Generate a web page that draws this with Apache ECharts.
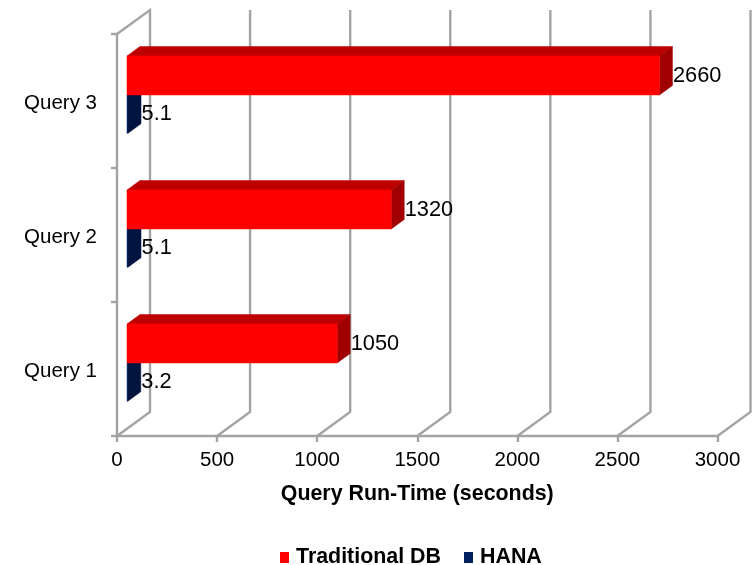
<!DOCTYPE html>
<html><head><meta charset="utf-8">
<style>html,body{margin:0;padding:0;background:#fff}#c{width:754px;height:565px}</style>
<script src="https://cdn.jsdelivr.net/npm/echarts@6/dist/echarts.min.js"></script>
</head><body><div id="c"></div>
<script>
const categories = ['Query 1', 'Query 2', 'Query 3'];
const traditionalDB = [1050, 1320, 2660];
const hana = [3.2, 5.1, 5.1];
const xTicks = [0, 500, 1000, 1500, 2000, 2500, 3000];
const seriesNames = ['Traditional DB', 'HANA'];

const FONT = '"Liberation Sans", Arial, sans-serif';
const GRID = '#A3A3A3';
const WALL = {dx: 33, dy: -24};
const FRONT = {dx: 10, dy: -7};
const DEPTH = {dx: 13, dy: -9.5};

function poly(points, fill) {
  return {type: 'polygon', shape: {points}, style: {fill, stroke: fill, lineWidth: 0.5}};
}
function barItem(colors, fromBand, toBand, labelDy) {
  return function (params, api) {
    const v = api.value(0), idx = api.value(1);
    const c = api.coord([v, idx]);
    const zero = api.coord([0, idx]);
    const band = api.size([0, 1])[1];
    const x0 = zero[0] + FRONT.dx, x1 = Math.max(c[0] + FRONT.dx, x0 + 0.8);
    const y0 = c[1] + fromBand * band, y1 = c[1] + toBand * band;
    const d = DEPTH;
    const top = poly([[x0, y0], [x1, y0], [x1 + d.dx, y0 + d.dy], [x0 + d.dx, y0 + d.dy]], colors.top);
    const side = poly([[x1, y0], [x1 + d.dx, y0 + d.dy], [x1 + d.dx, y1 + d.dy], [x1, y1]], colors.side);
    const front = poly([[x0, y0], [x1, y0], [x1, y1], [x0, y1]], colors.front);
    const label = {
      type: 'text',
      style: {
        text: String(v), x: x1 + d.dx + 0.5, y: (y0 + y1) / 2 + labelDy,
        verticalAlign: 'middle', align: 'left',
        font: '21.8px ' + FONT, fill: '#000'
      }
    };
    return {type: 'group', children: [top, side, front, label]};
  };
}
const gridItem = function (params, api) {
  const v = api.value(0);
  const xp = api.coord([v, 0])[0];
  const rect = params.coordSys;
  const bottom = rect.y + rect.height, topY = rect.y;
  const pts = [[xp, bottom], [xp + WALL.dx, bottom + WALL.dy], [xp + WALL.dx, topY + WALL.dy]];
  if (v === 0) pts.push([xp, topY]);
  return {type: 'polyline', shape: {points: pts}, style: {stroke: GRID, lineWidth: 2.4, fill: null}};
};

const chart = echarts.init(document.getElementById('c'), null, {renderer: 'canvas'});
chart.setOption({
  backgroundColor: '#fff',
  animation: false,
  textStyle: {fontFamily: FONT},
  grid: {left: 117, right: 36.5, top: 34, height: 402, containLabel: false},
  xAxis: {
    type: 'value', min: 0, max: 3000, interval: 500,
    splitLine: {show: false},
    axisLine: {show: true, lineStyle: {color: GRID, width: 2.4}},
    axisTick: {show: true, length: 6, lineStyle: {color: GRID, width: 2.4}},
    axisLabel: {color: '#000', fontSize: 20.5, margin: 14, fontFamily: FONT, formatter: v => String(v)},
    name: 'Query Run-Time (seconds)', nameLocation: 'middle', nameGap: 48,
    nameTextStyle: {color: '#000', fontSize: 21.4, fontWeight: 'bold', fontFamily: FONT}
  },
  yAxis: {
    type: 'category', data: categories,
    axisLine: {show: true, lineStyle: {color: GRID, width: 2.4}},
    axisTick: {show: true, length: 6, lineStyle: {color: GRID, width: 2.4}},
    axisLabel: {
      color: '#000', fontSize: 20.5, margin: 20, fontFamily: FONT,
      formatter: v => '{a|' + v + '}',
      rich: {a: {color: '#000', fontSize: 20.5, fontFamily: FONT, padding: [5, 0, 0, 0]}}
    }
  },
  legend: {
    data: seriesNames, left: 275, top: 542, icon: 'rect', itemWidth: 9, itemHeight: 11, itemGap: 23,
    textStyle: {color: '#000', fontSize: 21.4, fontWeight: 'bold', fontFamily: FONT, padding: [0, 0, 0, 2]}
  },
  series: [
    {type: 'custom', name: 'grid', silent: true, clip: false, z: 1, renderItem: gridItem,
     encode: {x: 0}, data: xTicks.map(t => [t, 0])},
    {type: 'custom', name: seriesNames[1], clip: false, z: 2, itemStyle: {color: '#002060'},
     renderItem: barItem({front: '#002060', top: '#001848', side: '#00143F'}, -0.045, 0.24, 0),
     encode: {x: 0, y: 1}, data: hana.map((v, i) => [v, i])},
    {type: 'custom', name: seriesNames[0], clip: false, z: 3, itemStyle: {color: '#FF0000'},
     renderItem: barItem({front: '#FF0000', top: '#BF0000', side: '#A00000'}, -0.336, -0.045, 1),
     encode: {x: 0, y: 1}, data: traditionalDB.map((v, i) => [v, i])}
  ]
});
</script></body></html>
